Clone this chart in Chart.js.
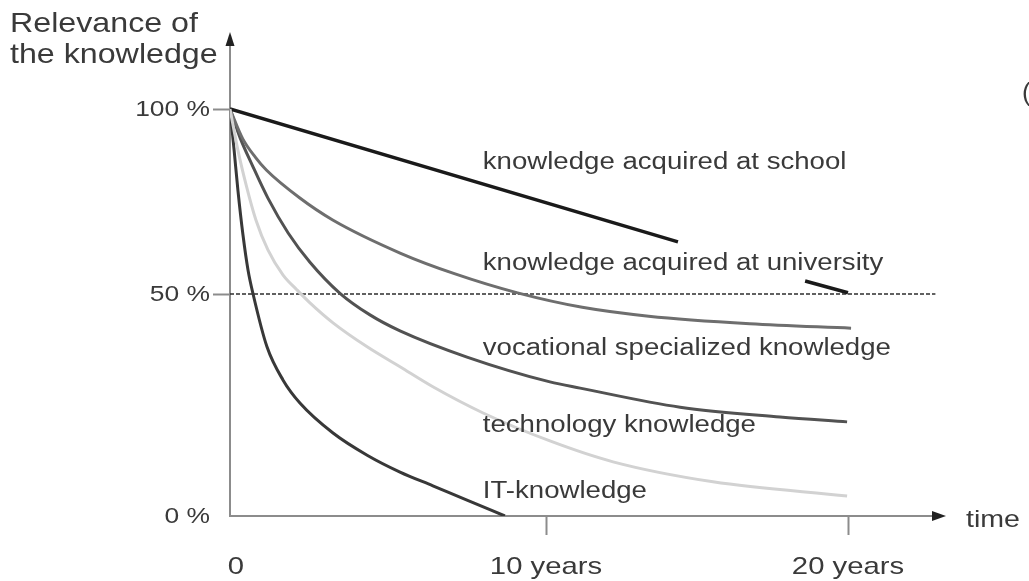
<!DOCTYPE html>
<html>
<head>
<meta charset="utf-8">
<title>Relevance of the knowledge</title>
<script src="https://cdn.jsdelivr.net/npm/chart.js@4.4.1/dist/chart.umd.min.js"></script>
<style>
  html, body { margin: 0; padding: 0; background: #fff; }
  canvas { display: block; }
</style>
</head>
<body>
<canvas id="decay-chart" width="1029" height="581"></canvas>
<script>
// years after learning -> remaining relevance of the knowledge (%)
var schoolYears = [0, 14.37, 16.5, 18.58, 20];
var schoolValues = [100, 64.1, null, 53.5, 50.35];

var universityYears = [0, 0.4, 0.8, 1.15, 2.2, 3.25, 5.4, 7.1, 9.1, 11.2, 13.4, 16.75, 20.1];
var universityValues = [100, 92, 87, 83.5, 76, 70, 61, 55.5, 50.3, 47, 45, 43.3, 42.3];

var vocationalYears = [0, 0.32, 0.7, 1.2, 1.84, 2.53, 3.48, 4.43, 5.38, 7.5, 10.13, 11.13, 14.44, 17.75, 19.97];
var vocationalValues = [100, 92.2, 84.9, 75.9, 66.5, 58.6, 50.2, 45.3, 41.7, 35.8, 30.2, 28.8, 24.5, 22.3, 21.2];

var technologyYears = [0, 0.25, 0.51, 0.82, 1.2, 1.68, 2.12, 2.53, 3.26, 4.34, 5.38, 6.42, 8.01, 10.13, 12.22, 15.53, 19.97];
var technologyValues = [100, 88.9, 79.5, 70, 61.9, 55.1, 51.1, 48, 43.5, 38.1, 33.6, 29.1, 23.2, 16.9, 12.2, 7.7, 4.5];

var itYears = [0, 0.13, 0.25, 0.41, 0.57, 0.73, 1.17, 1.68, 2.22, 3.26, 4.34, 5.38, 6.42, 7.5, 8.7];
var itValues = [100, 88.9, 78.1, 66, 56.5, 50, 38.1, 30.6, 25.4, 18.7, 13.7, 9.9, 6.8, 3.6, 0];

var seriesNames = [
    "knowledge acquired at school",
    "knowledge acquired at university",
    "vocational specialized knowledge",
    "technology knowledge",
    "IT-knowledge"
];

var xTickValues = [0, 10, 20];
var xTickLabels = ["0", "10 years", "20 years"];
var yTickValues = [0, 50, 100];
var yTickLabels = ["0 %", "50 %", "100 %"];
var halfLine = 50;

// the drawing is not to scale: each axis is linear between these stops [value, px from axis start]
var axisStops = {
    x: [[0, 0], [10, 316], [20, 618], [23, 710]],
    y: [[0, 0], [50, 222], [100, 407], [117, 476]]
};

function stopOffset(stops, v) {
    var i = 0;
    while (i < stops.length - 2 && v > stops[i + 1][0]) i++;
    var a = stops[i], b = stops[i + 1];
    return a[1] + (v - a[0]) * (b[1] - a[1]) / (b[0] - a[0]);
}

class PiecewiseScale extends Chart.LinearScale {
    getPixelForValue(value) {
        if (value === null || value === undefined || isNaN(value)) return NaN;
        var s = axisStops[this.axis];
        return this.getPixelForDecimal(stopOffset(s, value) / s[s.length - 1][1]);
    }
    getValueForPixel(pixel) {
        var s = axisStops[this.axis];
        var inv = s.map(function (p) { return [p[1], p[0]]; });
        return stopOffset(inv, this.getDecimalForPixel(pixel) * s[s.length - 1][1]);
    }
}
PiecewiseScale.id = "piecewise";
PiecewiseScale.defaults = Chart.LinearScale.defaults;
Chart.register(PiecewiseScale);

function toPoints(xs, ys) {
    return xs.map(function (x, i) { return { x: x, y: ys[i] }; });
}

var FONT = '"Liberation Sans", Arial, sans-serif';
var TEXT = "#3a3a3a";

// text is a bit stretched horizontally in the original
function wideText(ctx, text, x, y, size, sx, align, base) {
    ctx.save();
    ctx.font = size + "px " + FONT;
    ctx.fillStyle = TEXT;
    ctx.textAlign = align || "left";
    ctx.textBaseline = base || "middle";
    ctx.translate(x, y);
    ctx.scale(sx, 1);
    ctx.fillText(text, 0, 0);
    ctx.restore();
}

// where the curve names sit (in data units)
var labelAt = { year: 8.0, values: [85.4, 58.1, 37.8, 20.3, 5.4] };

var decoPlugin = {
    id: "deco",
    beforeDatasetsDraw: function (chart) {
        var ctx = chart.ctx, xs = chart.scales.x, ys = chart.scales.y;
        var y = ys.getPixelForValue(halfLine);
        ctx.save();
        ctx.strokeStyle = "#2e2e2e";
        ctx.lineWidth = 1.5;
        ctx.setLineDash([4, 2]);
        ctx.beginPath();
        ctx.moveTo(xs.getPixelForValue(0), y);
        ctx.lineTo(xs.getPixelForValue(22.85), y);
        ctx.stroke();
        ctx.restore();
    },
    afterDraw: function (chart) {
        var ctx = chart.ctx, xs = chart.scales.x, ys = chart.scales.y, area = chart.chartArea;

        // arrow heads
        ctx.save();
        ctx.fillStyle = "#222";
        ctx.beginPath();
        ctx.moveTo(area.left, area.top - 8);
        ctx.lineTo(area.left - 4.5, area.top + 6);
        ctx.lineTo(area.left + 4.5, area.top + 6);
        ctx.closePath();
        ctx.fill();
        ctx.beginPath();
        ctx.moveTo(area.right + 6, area.bottom);
        ctx.lineTo(area.right - 8, area.bottom - 5);
        ctx.lineTo(area.right - 8, area.bottom + 5);
        ctx.closePath();
        ctx.fill();
        ctx.restore();

        // tick labels
        yTickValues.forEach(function (v, i) {
            wideText(ctx, yTickLabels[i], area.left - 20, ys.getPixelForValue(v) + 1, 22, 1.2, "right");
        });
        xTickValues.forEach(function (v, i) {
            wideText(ctx, xTickLabels[i], xs.getPixelForValue(v) + (v === 0 ? 6 : 0), 567, 24, 1.22, "center");
        });

        // axis titles
        wideText(ctx, "Relevance of", 10, 32, 28, 1.15, "left", "alphabetic");
        wideText(ctx, "the knowledge", 10, 63, 28, 1.15, "left", "alphabetic");
        wideText(ctx, "time", 966, area.bottom + 4, 24, 1.19, "left");
        wideText(ctx, "(", 1022, 94, 26, 1, "left");

        // curve names
        seriesNames.forEach(function (name, i) {
            wideText(ctx, name, xs.getPixelForValue(labelAt.year), ys.getPixelForValue(labelAt.values[i]), 23, 1.2, "left");
        });
    }
};

function hideZero(c) {
    return c.tick && c.tick.value === 0 ? "rgba(0,0,0,0)" : "#8c8c8c";
}

var ctx = document.getElementById("decay-chart").getContext("2d");
var decayChart = new Chart(ctx, {
    type: "line",
    data: {
        datasets: [{
            label: seriesNames[3],
            data: toPoints(technologyYears, technologyValues),
            borderColor: "#d2d2d2",
            borderWidth: 3,
            cubicInterpolationMode: "monotone"
        }, {
            label: seriesNames[0],
            data: toPoints(schoolYears, schoolValues),
            borderColor: "#1a1a1a",
            borderWidth: 3.5,
            tension: 0,
            spanGaps: false
        }, {
            label: seriesNames[1],
            data: toPoints(universityYears, universityValues),
            borderColor: "#6e6e6e",
            borderWidth: 3,
            cubicInterpolationMode: "monotone"
        }, {
            label: seriesNames[2],
            data: toPoints(vocationalYears, vocationalValues),
            borderColor: "#525252",
            borderWidth: 3,
            cubicInterpolationMode: "monotone"
        }, {
            label: seriesNames[4],
            data: toPoints(itYears, itValues),
            borderColor: "#383838",
            borderWidth: 3,
            cubicInterpolationMode: "monotone"
        }]
    },
    options: {
        responsive: false,
        animation: false,
        events: [],
        elements: { point: { radius: 0 } },
        layout: { padding: { left: 0, right: 89, top: 40, bottom: 0 } },
        plugins: {
            legend: { display: false },
            tooltip: { enabled: false }
        },
        scales: {
            x: {
                type: "piecewise",
                axis: "x",
                position: "bottom",
                min: 0,
                max: 23,
                afterBuildTicks: function (scale) {
                    scale.ticks = xTickValues.map(function (v) { return { value: v }; });
                },
                afterFit: function (scale) { scale.height = 65; },
                ticks: { display: false },
                border: { display: true, color: "#8c8c8c", width: 2 },
                grid: { drawOnChartArea: false, drawTicks: true, tickLength: 19, tickWidth: 2, color: hideZero }
            },
            y: {
                type: "piecewise",
                axis: "y",
                position: "left",
                min: 0,
                max: 117,
                afterBuildTicks: function (scale) {
                    scale.ticks = yTickValues.map(function (v) { return { value: v }; });
                },
                afterFit: function (scale) { scale.width = 230; },
                ticks: { display: false },
                border: { display: true, color: "#8c8c8c", width: 2 },
                grid: { drawOnChartArea: false, drawTicks: true, tickLength: 17, tickWidth: 2, color: hideZero }
            }
        }
    },
    plugins: [decoPlugin]
});
</script>
</body>
</html>
